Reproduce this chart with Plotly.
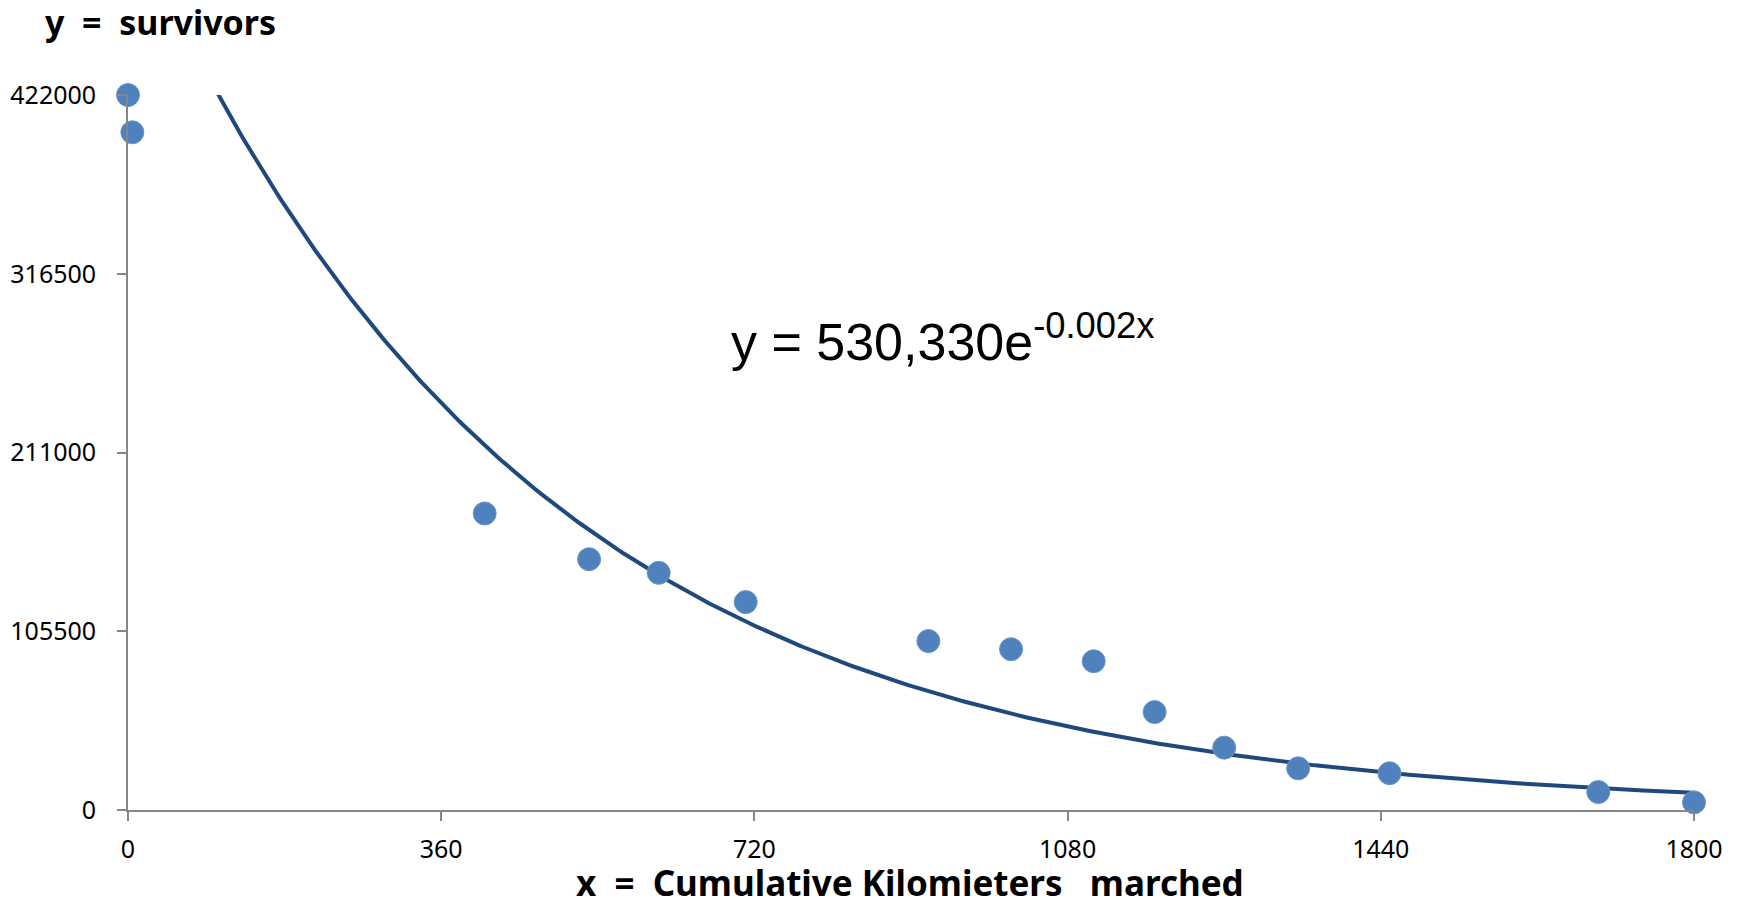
import numpy as np
import plotly.graph_objects as go

# Data
km_marched = [0, 5, 410, 530, 610, 710, 920, 1015, 1110, 1180, 1260, 1345, 1450, 1690, 1800]
survivors = [422000, 400000, 175000, 148000, 140000, 122700, 99700, 94900, 87800, 57800, 36800, 24600, 21700, 10600, 4500]

# Exponential trendline parameters (from the chart's equation label)
trend_a = 530330
trend_k = 0.0022

x_ticks = [0, 360, 720, 1080, 1440, 1800]
y_ticks = [0, 105500, 211000, 316500, 422000]

OFF = 8  # page body margin
W, H = 1744 - OFF, 898 - OFF
L, R, T, B = 120, 50, 87, 88
pw, ph = W - L - R, H - T - B

def px_x(p):
    return (p - OFF - L) / pw

def px_y(p):
    return (OFF + T + ph - p) / ph

trend_x = np.linspace(0, 1800, 400)
trend_y = trend_a * np.exp(-trend_k * trend_x)

fig = go.Figure()
fig.add_trace(go.Scatter(
    x=trend_x, y=trend_y, mode="lines",
    line=dict(color="#1F497D", width=4),
    hoverinfo="skip", showlegend=False,
))
fig.add_trace(go.Scatter(
    x=km_marched, y=survivors, mode="markers",
    marker=dict(size=23, color="#4F81BD", line=dict(color="#6A95CB", width=1)),
    cliponaxis=False, showlegend=False,
))

axis_common = dict(
    showgrid=False, zeroline=False, showline=True, automargin=False,
    linecolor="#868686", linewidth=1.8,
    ticks="outside", ticklen=9, tickwidth=1.8, tickcolor="#868686",
    tickfont=dict(family="Noto Sans", size=25, color="#000000"),
)

fig.update_xaxes(range=[0, 1800], tickvals=x_ticks,
                 ticktext=[str(v) for v in x_ticks],
                 ticklabelstandoff=7, **axis_common)
fig.update_yaxes(range=[0, 422000], tickvals=y_ticks,
                 ticktext=[str(v) for v in y_ticks],
                 ticklabelstandoff=16, **axis_common)

fig.add_annotation(
    text="y\u00a0\u00a0=\u00a0\u00a0survivors", xref="paper", yref="paper",
    x=px_x(43), y=px_y(22), xanchor="left", yanchor="middle", showarrow=False,
    font=dict(family="Noto Sans", size=34, color="#000000", weight="bold"),
)
fig.add_annotation(
    text="x\u00a0\u00a0=\u00a0\u00a0Cumulative\u00a0Kilomieters\u00a0\u00a0\u00a0marched",
    xref="paper", yref="paper",
    x=px_x(910), y=px_y(882), xanchor="center", yanchor="middle", showarrow=False,
    font=dict(family="Noto Sans", size=35, color="#000000", weight="bold"),
)
fig.add_annotation(
    text="y = 530,330e<sup>-0.002x</sup>", xref="paper", yref="paper",
    x=px_x(729), y=px_y(338), xanchor="left", yanchor="middle", showarrow=False,
    font=dict(family="Liberation Sans", size=52, color="#000000"),
)

fig.update_layout(
    width=W, height=H, autosize=False,
    margin=dict(l=L, r=R, t=T, b=B),
    paper_bgcolor="white", plot_bgcolor="white",
)

fig.write_html("out.html")
